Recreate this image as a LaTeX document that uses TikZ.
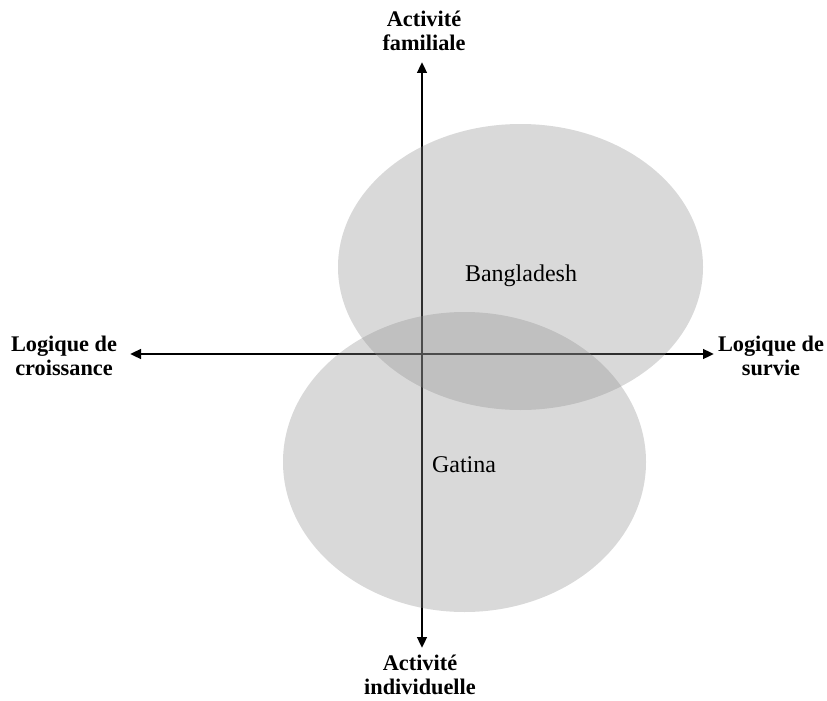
\documentclass[tikz,border=0pt]{standalone}
\usepackage{fontspec}
\setmainfont{Liberation Serif}
\usetikzlibrary{arrows.meta,shapes.geometric}
\begin{document}
\begin{tikzpicture}[x=1pt,y=-1pt,
  axis/.style={line width=2.9pt,-{Triangle[length=11pt,width=9.5pt]}},
  blob/.style={fill=black!45,fill opacity=0.33,draw=none,inner sep=0pt},
  lbl/.style={font=\fontsize{22.3}{24.5}\selectfont\bfseries,align=center,inner sep=0pt},
  txt/.style={font=\fontsize{24}{26}\selectfont,inner sep=0pt}]
\useasboundingbox (0,0) rectangle (827,701);
\coordinate (top) at (422,62);
\coordinate (bot) at (422,648);
\coordinate (lft) at (130,354);
\coordinate (rgt) at (714,354);
\coordinate (ctr) at (422,354);
\draw[axis] (ctr) -- (top);
\draw[axis] (ctr) -- (bot);
\draw[axis] (ctr) -- (lft);
\draw[axis] (ctr) -- (rgt);
\node[blob,ellipse,minimum width=365pt,minimum height=286pt] (bang) at (520.5,267) {};
\node[blob,ellipse,minimum width=363pt,minimum height=300pt] (gat) at (464.5,462) {};
\node[txt] (bangl) at (521,276) {Bangladesh};
\node[txt] (gatl) at (464,465) {Gatina};
\node[lbl] (ltop) at (424,31) {Activité\\familiale};
\node[lbl] (lbot) at (420,675) {Activité\\individuelle};
\node[lbl] (lleft) at (64,356) {Logique de\\croissance};
\node[lbl] (lright) at (771,356) {Logique de\\survie};
\end{tikzpicture}
\end{document}
